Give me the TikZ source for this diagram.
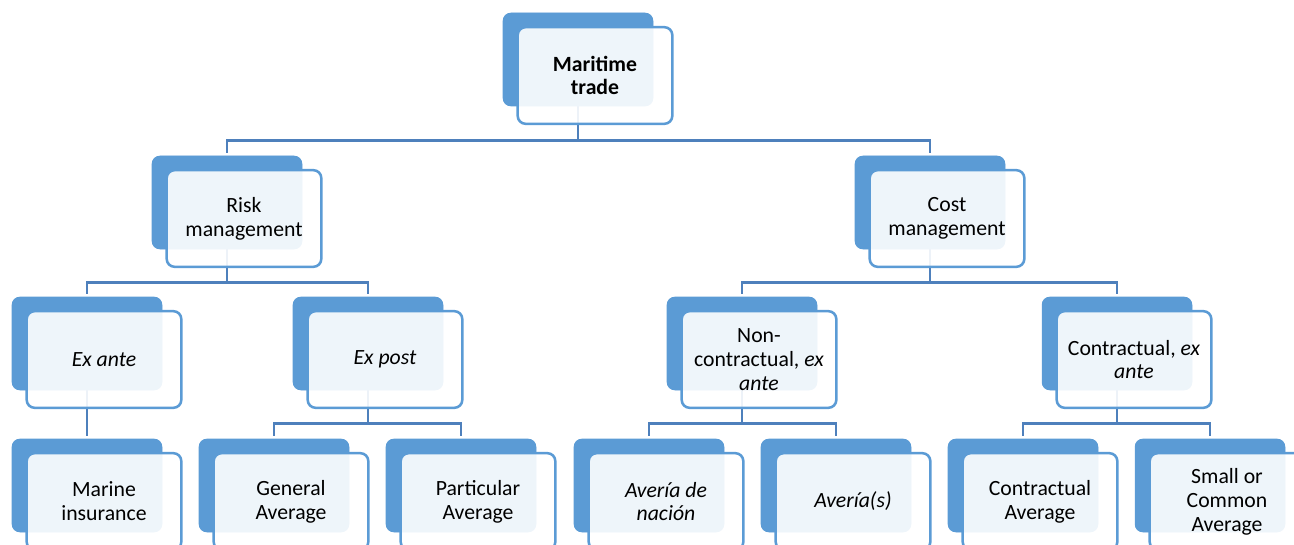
\documentclass[tikz,border=0pt]{standalone}
\usepackage{fontspec}
\setmainfont{Carlito}
\definecolor{accent}{HTML}{5B9BD5}
\definecolor{connc}{HTML}{4E80BC}
\begin{document}
\begin{tikzpicture}[x=0.75pt,y=-0.75pt,
  backbox/.style={draw=none,fill=accent,rounded corners=6pt,minimum width=112.5pt,minimum height=69.75pt,inner sep=0pt},
  frontbox/.style={draw=accent,line width=1.9pt,fill=white,fill opacity=0.9,text opacity=1,rounded corners=6pt,
    minimum width=116pt,minimum height=72.5pt,inner sep=0pt,align=center,
    font=\fontsize{16.3}{17.9}\selectfont,shift={(17,16)}},
  conn/.style={draw=connc,line width=2.1pt,shorten >=2.2pt}]
\useasboundingbox (0,0) rectangle (1294,545);
\clip (0,0) rectangle (1294,545);
% back boxes
\node[backbox] (top-b) at (578,59.5) {};
\node[backbox] (risk-b) at (227,202.5) {};
\node[backbox] (cost-b) at (930,202.5) {};
\node[backbox] (exante-b) at (87,343.5) {};
\node[backbox] (expost-b) at (368,343.5) {};
\node[backbox] (noncon-b) at (742,343.5) {};
\node[backbox] (contr-b) at (1117,343.5) {};
\node[backbox] (marine-b) at (87,485.5) {};
\node[backbox] (general-b) at (274,485.5) {};
\node[backbox] (particular-b) at (461,485.5) {};
\node[backbox] (nacion-b) at (649,485.5) {};
\node[backbox] (averias-b) at (836,485.5) {};
\node[backbox] (contravg-b) at (1023,485.5) {};
\node[backbox] (small-b) at (1210,485.5) {};
% connectors
\draw[conn] (top-b.south) -- ++(0,34) -| (risk-b.north);
\draw[conn] (top-b.south) -- ++(0,34) -| (cost-b.north);
\draw[conn] (risk-b.south) -- ++(0,33) -| (exante-b.north);
\draw[conn] (risk-b.south) -- ++(0,33) -| (expost-b.north);
\draw[conn] (cost-b.south) -- ++(0,33) -| (noncon-b.north);
\draw[conn] (cost-b.south) -- ++(0,33) -| (contr-b.north);
\draw[conn] (exante-b.south) -- (marine-b.north);
\draw[conn] (expost-b.south) -- ++(0,33) -| (general-b.north);
\draw[conn] (expost-b.south) -- ++(0,33) -| (particular-b.north);
\draw[conn] (noncon-b.south) -- ++(0,33) -| (nacion-b.north);
\draw[conn] (noncon-b.south) -- ++(0,33) -| (averias-b.north);
\draw[conn] (contr-b.south) -- ++(0,33) -| (contravg-b.north);
\draw[conn] (contr-b.south) -- ++(0,33) -| (small-b.north);
% redraw back boxes over connectors
\foreach \n in {top,risk,cost,exante,expost,noncon,contr,marine,general,particular,nacion,averias,contravg,small}
  \fill[accent,rounded corners=6pt] (\n-b.north west) rectangle (\n-b.south east);
% front boxes
\node[frontbox] (top) at (top-b) {\textbf{Maritime}\\\textbf{trade}};
\node[frontbox] (risk) at (risk-b) {Risk\\management};
\node[frontbox] (cost) at (cost-b) {Cost\\management};
\node[frontbox] (exante) at (exante-b) {\textit{Ex ante}};
\node[frontbox] (expost) at (expost-b) {\textit{Ex post}};
\node[frontbox] (noncon) at (noncon-b) {Non-\\contractual, \textit{ex}\\\textit{ante}};
\node[frontbox] (contr) at (contr-b) {Contractual, \textit{ex}\\\textit{ante}};
\node[frontbox] (marine) at (marine-b) {Marine\\insurance};
\node[frontbox] (general) at (general-b) {General\\Average};
\node[frontbox] (particular) at (particular-b) {Particular\\Average};
\node[frontbox] (nacion) at (nacion-b) {\textit{Avería de}\\\textit{nación}};
\node[frontbox] (averias) at (averias-b) {\textit{Avería(s)}};
\node[frontbox] (contravg) at (contravg-b) {Contractual\\Average};
\node[frontbox] (small) at (small-b) {Small or\\Common\\Average};
\end{tikzpicture}
\end{document}
